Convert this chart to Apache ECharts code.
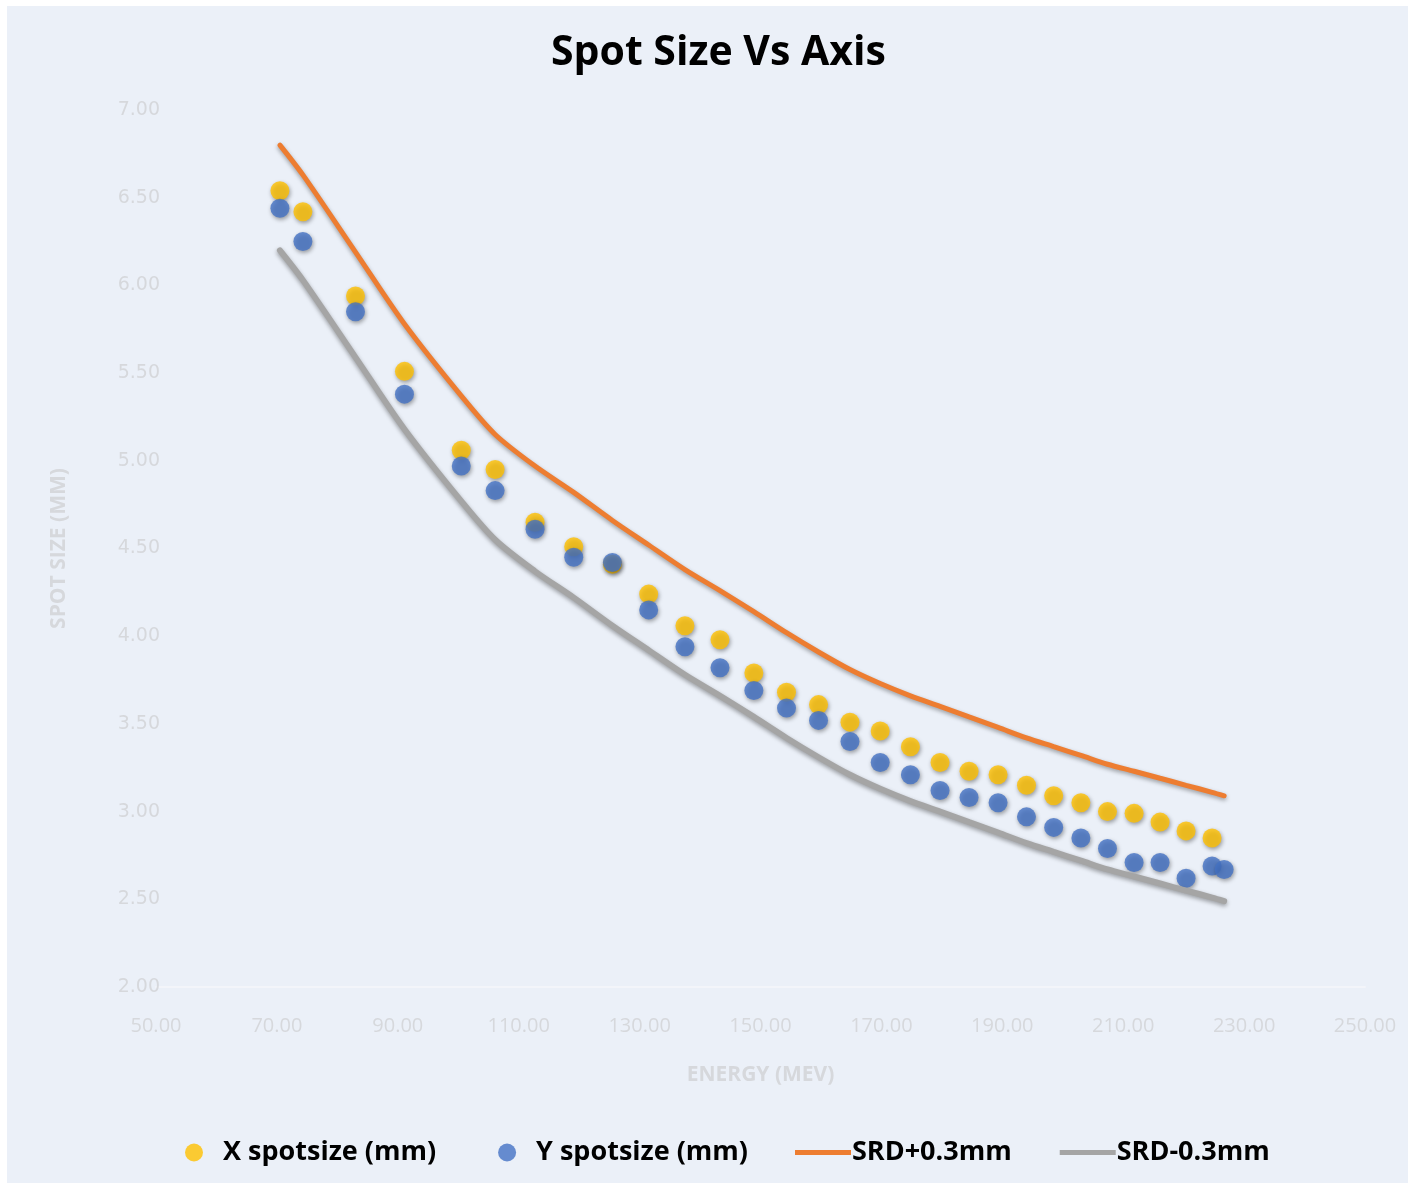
<!DOCTYPE html>
<html>
<head>
<meta charset="utf-8">
<title>Spot Size Vs Axis</title>
<script src="https://cdn.jsdelivr.net/npm/echarts@6/dist/echarts.min.js"></script>
<style>
  html, body { margin: 0; padding: 0; background: #ffffff; }
  #chart { width: 1414px; height: 1189px; }
</style>
</head>
<body>
<div id="chart"></div>
<script>
// Beam energies (MeV) at which spot sizes were measured
const energies = [70.5, 74.3, 83.0, 91.1, 100.5, 106.1, 112.7, 119.1, 125.5, 131.5,
  137.5, 143.3, 148.9, 154.3, 159.6, 164.8, 169.8, 174.8, 179.7, 184.5,
  189.3, 194.0, 198.5, 203.0, 207.4, 211.8, 216.1, 220.4, 224.7, 226.7];

// Measured X spot size (mm), one per energy (first 29 energies)
const xSpot = [6.54, 6.42, 5.94, 5.51, 5.06, 4.95, 4.65, 4.51, 4.41, 4.24,
  4.06, 3.98, 3.79, 3.68, 3.61, 3.51, 3.46, 3.37, 3.28, 3.23,
  3.21, 3.15, 3.09, 3.05, 3.00, 2.99, 2.94, 2.89, 2.85];

// Measured Y spot size (mm)
const ySpot = [6.44, 6.25, 5.85, 5.38, 4.97, 4.83, 4.61, 4.45, 4.42, 4.15,
  3.94, 3.82, 3.69, 3.59, 3.52, 3.40, 3.28, 3.21, 3.12, 3.08,
  3.05, 2.97, 2.91, 2.85, 2.79, 2.71, 2.71, 2.62, 2.69, 2.67];

// Tolerance band: reference spot size +0.3 mm and -0.3 mm
const srdPlus = [6.80, 6.63, 6.19, 5.78, 5.37, 5.15, 4.97, 4.82, 4.66, 4.52,
  4.38, 4.26, 4.14, 4.02, 3.91, 3.81, 3.73, 3.66, 3.60, 3.54,
  3.48, 3.42, 3.37, 3.32, 3.27, 3.23, 3.19, 3.15, 3.11, 3.09];
const srdMinus = [6.20, 6.03, 5.59, 5.18, 4.77, 4.55, 4.37, 4.22, 4.06, 3.92,
  3.78, 3.66, 3.54, 3.42, 3.31, 3.21, 3.13, 3.06, 3.00, 2.94,
  2.88, 2.82, 2.77, 2.72, 2.67, 2.63, 2.59, 2.55, 2.51, 2.49];

const seriesNames = ['X spotsize (mm)', 'Y spotsize (mm)', 'SRD+0.3mm', 'SRD-0.3mm'];
const colors = ['#FFC000', '#4472C4', '#ED7D31', '#A5A5A5'];

function pairs(xs, ys) {
  return ys.map((v, i) => [xs[i], v]);
}

const pointShadow = {
  shadowColor: 'rgba(0,0,0,0.45)',
  shadowBlur: 4,
  shadowOffsetX: 1,
  shadowOffsetY: 2
};

const axisTextColor = '#d6d8dc';
const chart = echarts.init(document.getElementById('chart'), null, { renderer: 'canvas' });

chart.setOption({
  backgroundColor: '#ffffff',
  animation: false,
  graphic: [{
    type: 'rect',
    left: 7, top: 6, z: -10,
    shape: { width: 1401, height: 1177 },
    style: { fill: '#ebf0f8' }
  }],
  title: {
    text: 'Spot Size Vs Axis',
    left: 546, top: 28,
    textStyle: { fontFamily: 'Open Sans', fontWeight: 'bold', fontSize: 41, color: '#000000' }
  },
  legend: [{
    data: [{ name: seriesNames[0], icon: 'circle' }, { name: seriesNames[1], icon: 'circle' }],
    left: 180, top: 1134,
    itemWidth: 18, itemHeight: 18,
    itemGap: 62,
    textStyle: { fontFamily: 'Open Sans', fontWeight: 'bold', fontSize: 27, color: '#000000', padding: [0, 0, 0, 15] }
  }, {
    data: [{ name: seriesNames[2], icon: 'rect' }, { name: seriesNames[3], icon: 'rect' }],
    left: 790, top: 1134,
    itemWidth: 56, itemHeight: 5,
    itemGap: 48,
    textStyle: { fontFamily: 'Open Sans', fontWeight: 'bold', fontSize: 27, color: '#000000', padding: [0, 0, 0, -4] }
  }],
  grid: { left: 156, right: 49, top: 110, bottom: 202, containLabel: false },
  xAxis: {
    type: 'value', min: 50, max: 250, interval: 20,
    name: 'ENERGY (MEV)', nameLocation: 'middle', nameGap: 78,
    nameTextStyle: { fontFamily: 'Open Sans', fontWeight: 'bold', fontSize: 21, color: axisTextColor },
    axisLine: { show: true, lineStyle: { color: '#f3f5fa', width: 2 } },
    axisTick: { show: false },
    splitLine: { show: false },
    axisLabel: {
      margin: 29, fontFamily: 'Open Sans', fontSize: 20, color: axisTextColor,
      formatter: v => v.toFixed(2)
    }
  },
  yAxis: {
    type: 'value', min: 2, max: 7, interval: 0.5,
    name: 'SPOT SIZE (MM)', nameLocation: 'middle', nameGap: 86, nameRotate: 90,
    nameTextStyle: { fontFamily: 'Open Sans', fontWeight: 'bold', fontSize: 21, color: axisTextColor },
    axisLine: { show: false },
    axisTick: { show: false },
    splitLine: { show: false },
    axisLabel: {
      margin: -4, fontFamily: 'DejaVu Sans', fontSize: 19, color: axisTextColor,
      formatter: v => v.toFixed(2)
    }
  },
  series: [{
    name: seriesNames[0], type: 'scatter',
    data: pairs(energies, xSpot),
    symbol: 'circle', symbolSize: 19,
    itemStyle: Object.assign({ color: colors[0] }, pointShadow)
  }, {
    name: seriesNames[1], type: 'scatter',
    data: pairs(energies, ySpot),
    symbol: 'circle', symbolSize: 19,
    itemStyle: Object.assign({ color: colors[1] }, pointShadow)
  }, {
    name: seriesNames[2], type: 'line',
    data: pairs(energies, srdPlus),
    smooth: 0.3, showSymbol: false, symbol: 'none',
    itemStyle: { color: colors[2] },
    lineStyle: { color: colors[2], width: 5, cap: 'round', shadowColor: 'rgba(0,0,0,0.35)', shadowBlur: 4, shadowOffsetY: 2 }
  }, {
    name: seriesNames[3], type: 'line',
    data: pairs(energies, srdMinus),
    smooth: 0.3, showSymbol: false, symbol: 'none',
    itemStyle: { color: colors[3] },
    lineStyle: { color: colors[3], width: 6, cap: 'round', shadowColor: 'rgba(0,0,0,0.35)', shadowBlur: 4, shadowOffsetY: 2 }
  }]
});
</script>
</body>
</html>
